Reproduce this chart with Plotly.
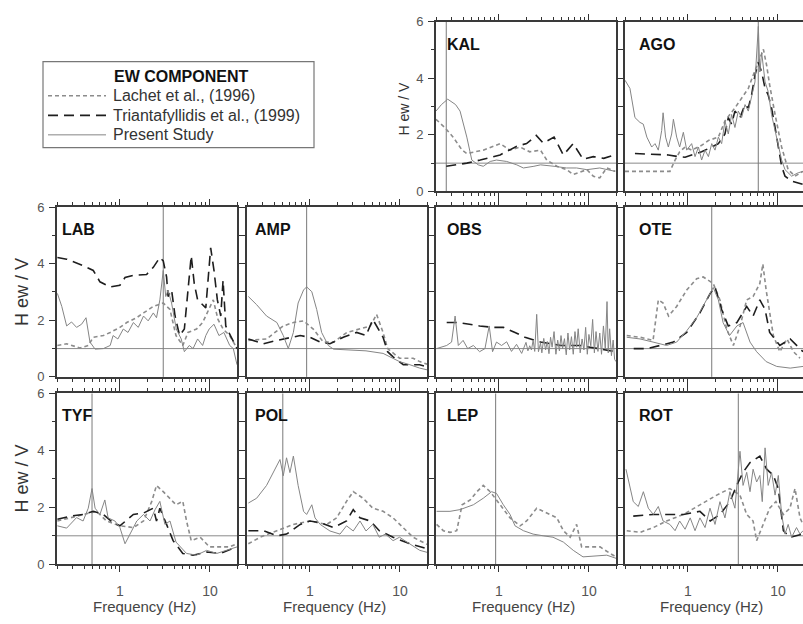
import math
import plotly.graph_objects as go

# ---------------- data ----------------
STATIONS = ["KAL", "AGO", "LAB", "AMP", "OBS", "OTE", "TYF", "POL", "LEP", "ROT"]
GRID_POS = [(0, 2), (0, 3), (1, 0), (1, 1), (1, 2), (1, 3), (2, 0), (2, 1), (2, 2), (2, 3)]
F0 = [0.26, 6.05, 3.03, 0.92, None, 1.84, 0.49, 0.50, 0.92, 3.63]
SERIES_NAMES = ["Lachet et al., (1996)", "Triantafyllidis et al., (1999)", "Present Study"]
LEGEND_TITLE = "EW COMPONENT"
X_TICKS = [1, 10]
X_TICK_TEXT = ["1", "10"]
X_MINOR = [0.2, 0.3, 0.4, 0.5, 0.6, 0.7, 0.8, 0.9, 2, 3, 4, 5, 6, 7, 8, 9, 20]
Y_TICKS = [0, 2, 4, 6]
Y_MINOR = [1, 3, 5]

KAL_P_F = [0.2, 0.23, 0.27, 0.33, 0.37, 0.44, 0.5, 0.59, 0.67, 0.8, 0.94, 1.22, 1.58, 1.87, 2.45, 2.9, 4.1, 5.65, 7.3, 9.5, 13.2, 15.8, 19.6]
KAL_P_V = [2.84, 3.07, 3.26, 3.07, 2.84, 1.92, 1.11, 0.94, 0.89, 1.06, 1.11, 1.06, 0.94, 0.83, 0.89, 0.94, 0.89, 0.83, 0.83, 0.77, 0.83, 0.77, 0.71]
KAL_L_F = [0.2, 0.25, 0.31, 0.39, 0.44, 0.67, 1.03, 1.33, 1.72, 2.2, 2.9, 3.4, 4.4, 5.65, 6.7, 9.5, 11.2, 13.2, 15.8, 19.6]
KAL_L_V = [2.55, 2.26, 1.92, 1.46, 1.34, 1.46, 1.69, 1.46, 1.57, 1.40, 1.46, 1.11, 0.89, 0.77, 0.60, 0.77, 0.54, 0.48, 0.83, 0.71]
KAL_T_F = [0.26, 0.44, 0.62, 1.03, 1.58, 2.03, 2.6, 3.1, 4.1, 5.2, 6.7, 8.6, 11.2, 14.6, 19.1]
KAL_T_V = [0.89, 1.0, 1.11, 1.29, 1.6, 1.69, 1.98, 1.71, 1.92, 1.29, 1.69, 1.14, 1.23, 1.17, 1.29]

AGO_P_F = [0.2, 0.227, 0.258, 0.293, 0.319, 0.35, 0.396, 0.431, 0.469, 0.511, 0.53, 0.565, 0.606, 0.66, 0.69, 0.75, 0.81, 0.89, 0.97, 1.10, 1.2, 1.31, 1.42, 1.55, 1.69, 1.84, 2.0, 2.18, 2.37, 2.58, 2.81, 3.06, 3.33, 3.63, 3.95, 4.31, 4.69, 5.1, 5.56, 6.06, 6.3, 6.6, 7.2, 7.8, 8.5, 9.3, 10.1, 11.0, 12.0, 14.2, 16.8, 19.0]
AGO_P_V = [3.93, 3.64, 2.61, 2.44, 2.38, 1.92, 1.57, 1.69, 1.46, 2.15, 2.78, 1.92, 1.57, 2.03, 2.55, 1.92, 1.57, 2.09, 1.46, 1.69, 1.23, 1.57, 1.11, 1.46, 1.23, 1.69, 1.46, 1.92, 1.69, 2.49, 2.03, 2.72, 2.26, 2.84, 2.61, 3.07, 2.84, 3.30, 3.87, 5.83, 4.22, 4.91, 3.87, 3.53, 2.72, 2.15, 1.69, 1.11, 0.77, 0.54, 0.66, 0.71]
AGO_L_F = [0.2, 0.334, 0.632, 0.72, 0.81, 0.93, 1.1, 1.42, 1.69, 2.18, 2.58, 3.33, 3.95, 4.69, 5.3, 6.06, 6.9, 7.5, 8.1, 9.3, 11.0, 13.0, 15.5, 19.0]
AGO_L_V = [0.71, 0.71, 0.71, 1.11, 1.40, 1.57, 1.46, 1.63, 1.80, 1.92, 2.49, 2.95, 3.30, 3.64, 4.10, 4.56, 5.02, 4.45, 3.76, 2.72, 1.57, 0.77, 0.54, 0.71]
AGO_T_F = [0.258, 0.334, 0.469, 0.606, 0.78, 0.93, 1.1, 1.42, 1.84, 2.18, 2.58, 2.81, 3.06, 3.33, 3.79, 4.31, 4.69, 5.1, 5.56, 6.06, 6.6, 7.2, 7.8, 8.5, 9.3, 10.1, 11.0, 12.0, 14.2, 19.0]
AGO_T_V = [1.34, 1.32, 1.32, 1.29, 1.23, 1.21, 1.29, 1.40, 1.57, 1.69, 2.03, 2.61, 2.38, 2.84, 2.61, 3.07, 2.95, 3.41, 4.10, 4.56, 4.22, 3.64, 3.41, 2.95, 2.26, 1.57, 0.89, 0.54, 0.37, 0.25]

LAB_P_F = [0.202, 0.226, 0.256, 0.29, 0.33, 0.375, 0.42, 0.465, 0.53, 0.655, 0.78, 0.84, 0.95, 1.09, 1.23, 1.41, 1.6, 1.83, 2.06, 2.35, 2.55, 2.78, 3.03, 3.23, 3.43, 3.75, 4.23, 4.8, 5.2, 5.9, 6.5, 7.3, 8.3, 9.0, 9.8, 11.1, 12.6, 14.3, 16.6, 18.2, 20.0]
LAB_P_V = [2.95, 2.49, 1.80, 1.94, 1.75, 1.86, 2.09, 1.23, 0.98, 1.0, 1.11, 1.46, 1.34, 1.69, 1.57, 1.92, 1.75, 2.15, 1.98, 2.26, 2.09, 2.72, 3.76, 2.84, 3.07, 2.61, 1.69, 1.34, 0.89, 1.11, 1.0, 1.34, 1.11, 1.46, 1.69, 1.86, 1.46, 1.57, 1.11, 1.0, 0.43]
LAB_L_F = [0.202, 0.256, 0.36, 0.445, 0.506, 0.655, 0.78, 1.0, 1.19, 1.53, 1.83, 2.35, 3.03, 3.6, 4.2, 5.0, 5.7, 7.1, 8.3, 9.6, 10.9, 12.3, 14.0, 16.6, 20.0]
LAB_L_V = [1.11, 1.17, 1.02, 1.11, 1.40, 1.46, 1.57, 1.75, 1.92, 2.09, 2.26, 2.49, 2.61, 2.38, 1.46, 1.11, 1.57, 1.69, 1.92, 2.38, 2.72, 2.03, 1.69, 1.46, 1.0]
LAB_T_F = [0.202, 0.256, 0.39, 0.506, 0.6, 0.78, 1.0, 1.14, 1.41, 1.98, 2.35, 2.78, 3.03, 3.3, 3.43, 3.75, 4.1, 4.6, 5.2, 6.2, 6.7, 7.3, 8.3, 9.0, 10.2, 11.1, 12.1, 13.2, 14.0, 15.0, 16.9, 20.0]
LAB_T_V = [4.22, 4.16, 3.93, 3.76, 3.36, 3.18, 3.24, 3.51, 3.59, 3.62, 3.87, 4.22, 4.10, 3.53, 2.84, 3.07, 2.15, 1.46, 1.69, 4.28, 3.30, 2.72, 2.55, 2.44, 4.56, 3.76, 2.72, 2.15, 3.41, 1.80, 1.46, 1.0]

AMP_P_F = [0.207, 0.256, 0.33, 0.43, 0.506, 0.575, 0.655, 0.74, 0.85, 0.92, 1.05, 1.19, 1.35, 1.6, 1.83, 2.81, 4.2, 6.5, 8.4, 9.9, 12.9, 16.6, 20.0]
AMP_P_V = [2.84, 2.55, 2.15, 1.92, 1.46, 1.0, 1.57, 2.61, 3.07, 3.18, 3.01, 2.38, 1.57, 1.11, 0.98, 0.94, 0.92, 0.83, 0.66, 0.54, 0.43, 0.31, 0.25]
AMP_L_F = [0.207, 0.33, 0.506, 0.655, 0.85, 1.09, 1.41, 1.83, 2.58, 3.6, 4.7, 5.5, 6.5, 7.3, 9.9, 14.0, 16.6, 20.0]
AMP_L_V = [1.29, 1.34, 1.80, 1.92, 1.98, 1.69, 1.23, 1.23, 1.57, 1.69, 1.80, 2.21, 1.57, 1.0, 0.66, 0.66, 0.54, 0.45]
AMP_T_F = [0.207, 0.304, 0.43, 0.6, 0.78, 1.0, 1.3, 1.67, 2.35, 3.3, 4.2, 5.0, 5.7, 6.5, 7.3, 8.4, 10.9, 16.6, 20.0]
AMP_T_V = [1.34, 1.17, 1.29, 1.40, 1.46, 1.40, 1.23, 1.17, 1.40, 1.57, 1.46, 2.03, 1.69, 1.40, 0.89, 0.71, 0.43, 0.43, 0.35]

OBS_P_F = [0.203, 0.263, 0.298, 0.326, 0.354, 0.4, 0.45, 0.52, 0.61, 0.7, 0.78, 0.85, 0.94, 1.07, 1.22, 1.38, 1.57, 1.79,
           2.0, 2.1, 2.2, 2.3, 2.4, 2.5, 2.63, 2.75, 2.9, 3.0, 3.15, 3.3, 3.45, 3.6, 3.75, 3.9, 4.1, 4.3, 4.5, 4.7,
           4.9, 5.1, 5.35, 5.6, 5.85, 6.1, 6.4, 6.7, 7.0, 7.3, 7.6, 8.0, 8.4, 8.8, 9.2, 9.6, 10.0, 10.5, 11.0, 11.5,
           12.0, 12.6, 13.2, 13.8, 14.5, 15.2, 15.9, 16.4, 17.0, 17.8, 18.6, 19.3, 20.0]
OBS_P_V = [1.0, 1.11, 1.23, 2.15, 1.11, 1.29, 1.0, 1.11, 0.89, 1.0, 1.8, 0.89, 1.23, 1.11, 1.24, 0.9, 1.15, 0.83,
           1.22, 0.92, 1.1, 0.95, 1.3, 0.9, 2.21, 0.89, 1.2, 0.85, 1.36, 0.95, 1.25, 0.82, 1.4, 1.05, 1.6, 0.8, 1.3, 0.92,
           1.46, 1.0, 1.35, 0.78, 1.55, 0.95, 1.42, 0.8, 1.6, 1.05, 1.7, 0.85, 1.34, 0.95, 1.75, 0.8, 1.5, 1.1, 2.03, 0.85,
           1.6, 0.9, 1.55, 0.8, 1.8, 1.0, 2.66, 0.85, 1.7, 0.75, 1.3, 0.62, 0.54]
OBS_T_F = [0.263, 0.354, 0.47, 0.61, 0.87, 1.12, 1.51, 1.95, 2.9, 4.9, 8.0, 13.2, 20.0]
OBS_T_V = [1.92, 1.92, 1.86, 1.80, 1.75, 1.75, 1.57, 1.40, 1.23, 1.11, 1.11, 1.0, 0.89]

OTE_P_F = [0.209, 0.294, 0.41, 0.58, 0.75, 0.97, 1.25, 1.48, 1.69, 1.91, 2.18, 2.46, 2.9, 3.5, 4.1, 4.9, 5.8, 7.4, 9.7, 13.7, 19.0]
OTE_P_V = [1.40, 1.34, 1.23, 1.11, 1.23, 1.63, 2.09, 2.49, 2.84, 3.16, 2.72, 1.92, 1.46, 1.80, 1.92, 1.23, 0.89, 0.54, 0.37, 0.31, 0.37]
OTE_L_F = [0.209, 0.294, 0.41, 0.469, 0.53, 0.61, 0.75, 0.97, 1.25, 1.48, 1.91, 2.27, 2.7, 3.2, 3.8, 4.5, 5.3, 6.3, 6.8, 7.4, 8.9, 10.5, 12.6, 14.9, 17.6]
OTE_L_V = [1.46, 1.40, 1.29, 2.72, 2.61, 2.15, 2.49, 3.07, 3.47, 3.53, 3.30, 2.72, 1.69, 1.11, 1.80, 2.72, 2.84, 3.30, 3.99, 3.07, 1.46, 0.89, 1.34, 0.89, 0.66]
OTE_T_F = [0.25, 0.35, 0.49, 0.69, 0.97, 1.36, 1.77, 2.0, 2.37, 2.81, 3.5, 4.5, 5.3, 6.3, 7.2, 8.1, 10.5, 13.7, 19.0]
OTE_T_V = [1.0, 1.0, 1.11, 1.23, 1.57, 2.26, 2.95, 3.18, 2.38, 1.80, 1.92, 2.49, 2.15, 2.72, 2.38, 1.57, 1.11, 1.34, 0.89]

TYF_P_F = [0.202, 0.256, 0.33, 0.39, 0.445, 0.49, 0.53, 0.6, 0.68, 0.74, 0.88, 1.0, 1.14, 1.3, 1.54, 1.83, 2.16, 2.46, 2.78, 3.16, 3.6, 4.2, 5.5, 7.1, 9.2, 11.9, 15.4, 20.0]
TYF_P_V = [1.35, 1.27, 1.64, 1.52, 1.97, 2.66, 1.97, 1.75, 2.26, 1.63, 1.52, 1.29, 0.72, 1.06, 1.52, 1.75, 1.52, 1.92, 2.21, 1.40, 1.52, 0.78, 0.38, 0.32, 0.49, 0.38, 0.49, 0.61]
TYF_L_F = [0.202, 0.28, 0.39, 0.55, 0.71, 1.0, 1.41, 1.83, 2.26, 2.55, 3.03, 3.6, 4.2, 5.0, 5.5, 6.2, 7.8, 9.9, 13.0, 16.6, 20.0]
TYF_L_V = [1.52, 1.63, 1.75, 1.86, 1.52, 1.35, 1.29, 1.52, 2.21, 2.77, 2.55, 2.32, 2.09, 2.21, 1.52, 0.83, 0.95, 0.61, 0.61, 0.61, 0.72]
TYF_T_F = [0.202, 0.28, 0.39, 0.506, 0.655, 0.84, 1.0, 1.41, 1.83, 2.35, 2.55, 2.78, 3.3, 3.9, 5.0, 6.5, 9.2, 13.0, 20.0]
TYF_T_V = [1.58, 1.69, 1.75, 1.86, 1.75, 1.46, 1.35, 1.75, 1.80, 1.97, 1.52, 1.97, 1.40, 0.83, 0.38, 0.32, 0.43, 0.38, 0.61]

POL_P_F = [0.207, 0.256, 0.33, 0.39, 0.465, 0.506, 0.55, 0.6, 0.655, 0.74, 0.85, 0.92, 1.05, 1.14, 1.3, 1.67, 2.16, 2.55, 3.03, 3.6, 4.2, 5.0, 5.9, 6.9, 8.4, 9.9, 12.9, 16.6, 20.0]
POL_P_V = [2.15, 2.32, 2.77, 3.22, 3.68, 3.11, 3.74, 3.22, 3.80, 2.77, 1.86, 1.75, 2.09, 1.63, 1.40, 1.17, 1.06, 1.35, 1.17, 1.52, 1.17, 1.40, 0.95, 1.06, 0.83, 0.95, 0.72, 0.49, 0.42]
POL_L_F = [0.207, 0.28, 0.43, 0.655, 1.0, 1.54, 1.98, 2.55, 3.03, 3.9, 5.0, 6.5, 8.4, 10.9, 14.0, 16.6, 20.0]
POL_L_V = [0.72, 0.95, 1.18, 1.40, 1.52, 1.40, 1.63, 2.21, 2.55, 2.32, 1.97, 1.86, 1.63, 1.29, 0.95, 0.83, 0.70]
POL_T_F = [0.207, 0.304, 0.43, 0.55, 0.78, 1.0, 1.3, 1.83, 2.55, 3.03, 3.6, 4.7, 5.9, 8.4, 12.9, 16.6, 20.0]
POL_T_V = [1.18, 1.18, 1.0, 1.06, 1.40, 1.52, 1.46, 1.29, 1.52, 1.92, 1.63, 1.52, 1.18, 0.95, 0.72, 0.61, 0.55]

LEP_P_F = [0.203, 0.286, 0.37, 0.52, 0.67, 0.83, 0.94, 1.12, 1.33, 1.51, 1.87, 2.4, 3.1, 3.99, 5.2, 6.7, 8.6, 11.2, 15.8, 20.0]
LEP_P_V = [1.86, 1.86, 1.92, 2.09, 2.32, 2.55, 2.49, 2.09, 1.75, 1.35, 1.18, 1.06, 1.0, 0.95, 0.78, 0.49, 0.26, 0.29, 0.32, 0.21]
LEP_L_F = [0.203, 0.241, 0.286, 0.34, 0.39, 0.48, 0.57, 0.67, 0.8, 0.94, 1.12, 1.33, 1.72, 2.03, 2.63, 3.4, 4.4, 5.2, 6.2, 7.3, 8.3, 10.3, 13.3, 17.2, 20.0]
LEP_L_V = [1.40, 1.18, 1.12, 1.18, 2.09, 2.26, 2.55, 2.77, 2.55, 2.26, 1.97, 1.63, 1.35, 1.52, 1.97, 1.80, 1.63, 1.18, 0.95, 1.40, 0.61, 0.61, 0.61, 0.38, 0.26]

ROT_P_F = [0.205, 0.227, 0.247, 0.281, 0.32, 0.363, 0.413, 0.469, 0.53, 0.63, 0.72, 0.81, 0.93, 1.06, 1.2, 1.36, 1.55, 1.76, 2.0, 2.27, 2.58, 2.93, 3.33, 3.79, 4.1, 4.5, 4.9, 5.3, 5.8, 6.3, 6.7, 7.2, 7.8, 8.5, 9.3, 10.1, 11.0, 12.0, 13.0, 14.2, 16.1, 17.6, 19.0]
ROT_P_V = [3.34, 2.66, 2.20, 2.03, 2.55, 1.97, 1.75, 2.03, 1.52, 1.40, 1.18, 1.52, 1.23, 1.63, 1.18, 1.63, 1.29, 1.97, 1.40, 2.20, 1.63, 2.55, 1.97, 3.97, 2.77, 3.23, 2.55, 3.34, 2.89, 3.12, 2.20, 4.09, 2.77, 3.23, 2.43, 3.12, 1.75, 1.06, 1.40, 0.95, 1.29, 1.06, 1.18]
ROT_L_F = [0.209, 0.294, 0.413, 0.58, 0.89, 1.36, 2.09, 2.93, 3.79, 4.5, 5.3, 5.8, 6.8, 8.1, 9.5, 11.5, 13.6, 15.5, 17.6, 19.0]
ROT_L_V = [1.18, 1.12, 1.29, 1.52, 1.75, 2.09, 2.43, 2.66, 2.43, 1.75, 1.52, 0.83, 1.40, 1.97, 2.20, 1.75, 1.97, 2.66, 1.63, 1.40]
ROT_T_F = [0.247, 0.413, 0.58, 0.89, 1.36, 1.77, 2.27, 2.93, 3.48, 4.1, 4.9, 6.3, 7.5, 8.9, 10.1, 11.5, 13.6, 19.0]
ROT_T_V = [1.69, 1.75, 1.75, 1.75, 1.86, 1.52, 1.75, 2.20, 2.77, 3.23, 3.57, 3.80, 3.34, 3.12, 2.66, 1.18, 0.95, 1.06]

DATA = {
    "KAL": [(KAL_L_F, KAL_L_V), (KAL_T_F, KAL_T_V), (KAL_P_F, KAL_P_V)],
    "AGO": [(AGO_L_F, AGO_L_V), (AGO_T_F, AGO_T_V), (AGO_P_F, AGO_P_V)],
    "LAB": [(LAB_L_F, LAB_L_V), (LAB_T_F, LAB_T_V), (LAB_P_F, LAB_P_V)],
    "AMP": [(AMP_L_F, AMP_L_V), (AMP_T_F, AMP_T_V), (AMP_P_F, AMP_P_V)],
    "OBS": [None, (OBS_T_F, OBS_T_V), (OBS_P_F, OBS_P_V)],
    "OTE": [(OTE_L_F, OTE_L_V), (OTE_T_F, OTE_T_V), (OTE_P_F, OTE_P_V)],
    "TYF": [(TYF_L_F, TYF_L_V), (TYF_T_F, TYF_T_V), (TYF_P_F, TYF_P_V)],
    "POL": [(POL_L_F, POL_L_V), (POL_T_F, POL_T_V), (POL_P_F, POL_P_V)],
    "LEP": [(LEP_L_F, LEP_L_V), None, (LEP_P_F, LEP_P_V)],
    "ROT": [(ROT_L_F, ROT_L_V), (ROT_T_F, ROT_T_V), (ROT_P_F, ROT_P_V)],
}

# ---------------- layout / style ----------------
W, H = 803, 624
COL_PX = [(57, 237), (247, 427), (436, 616), (625, 803)]
ROW_PX = [(15, 189), (205, 379), (396, 571)]
DEC_PX = 90.0
LX0 = math.log10(0.2)
LABEL_DX = [3, 6, 9, 12]
FONT = "Liberation Sans, Arial, sans-serif"
STYLES = [
    dict(color="#8c8c8c", width=1.6, dash="4px,3px"),
    dict(color="#1e1e1e", width=1.6, dash="10px,6px"),
    dict(color="#858585", width=1.0, dash="solid"),
]
LEG_BOX = (43, 314, 56, 144)
LEG_TITLE_Y = 71
LEG_ROWS_Y = [91, 111, 131]
LEG_SAMPLE_X = (48, 106)
LEG_TEXT_X = 111

fig = go.Figure()
layout = {}
shapes = []
annotations = []

for i, st in enumerate(STATIONS):
    n = i + 1
    r, c = GRID_POS[i]
    xs = "x" if n == 1 else f"x{n}"
    ys = "y" if n == 1 else f"y{n}"
    x0p, x1p = COL_PX[c]
    y0p, y1p = ROW_PX[r]
    for k, ser in enumerate(DATA[st]):
        if ser is None:
            continue
        fig.add_trace(go.Scatter(
            x=ser[0], y=ser[1], mode="lines", name=SERIES_NAMES[k],
            line=STYLES[k], xaxis=xs, yaxis=ys, showlegend=False,
        ))
    first_col = (c == 0) or (st == "KAL")
    bottom = (r == 2)
    layout[f"xaxis{n}"] = dict(
        domain=[x0p / W, x1p / W], anchor=ys, type="log",
        range=[LX0, LX0 + (x1p - x0p) / DEC_PX],
        tickmode="array", tickvals=X_TICKS, ticktext=X_TICK_TEXT,
        ticks="outside", ticklen=6, tickwidth=1, tickcolor="#333",
        minor=dict(tickmode="array", tickvals=X_MINOR, ticks="outside",
                   ticklen=3, tickwidth=1, tickcolor="#333", showgrid=False),
        showticklabels=bottom, ticklabelstandoff=7,
        tickfont=dict(size=14, color="#555", family=FONT),
        showline=True, linecolor="#3a3a3a", linewidth=2, mirror="allticks",
        showgrid=False, zeroline=False, fixedrange=True,
    )
    layout[f"yaxis{n}"] = dict(
        domain=[1 - y1p / H, 1 - y0p / H], anchor=xs, range=[0, 6],
        tickmode="array", tickvals=Y_TICKS,
        ticks="outside", ticklen=6, tickwidth=1, tickcolor="#333",
        minor=dict(tickmode="array", tickvals=Y_MINOR, ticks="outside",
                   ticklen=3, tickwidth=1, tickcolor="#333", showgrid=False),
        showticklabels=first_col, ticklabelstandoff=2,
        tickfont=dict(size=13, color="#555", family=FONT),
        showline=True, linecolor="#3a3a3a", linewidth=2,
        mirror=("allticks" if c < 3 else False),
        showgrid=False, zeroline=False, fixedrange=True,
    )
    shapes.append(dict(type="line", xref=f"{xs} domain", yref=ys, x0=0, x1=1, y0=1, y1=1,
                       line=dict(color="#8a8a8a", width=1), layer="below"))
    if F0[i] is not None:
        shapes.append(dict(type="line", xref=xs, yref=f"{ys} domain", x0=F0[i], x1=F0[i], y0=0, y1=1,
                           line=dict(color="#7a7a7a", width=1), layer="below"))
    annotations.append(dict(text=f"<b>{st}</b>", xref=f"{xs} domain", yref=f"{ys} domain",
                            x=0, y=1, xanchor="left", yanchor="top", xshift=LABEL_DX[c], yshift=-12,
                            showarrow=False, font=dict(size=16, color="#111", family=FONT)))
    if bottom:
        annotations.append(dict(text="Frequency (Hz)", xref=f"{xs} domain", yref="paper",
                                x=0.5, y=1 - 614 / H, xanchor="center", yanchor="middle", xshift=-3,
                                showarrow=False, font=dict(size=15, color="#444", family=FONT)))

for (px, py, size) in [(404, 104, 14), (22, 292, 18), (22, 483, 18)]:
    annotations.append(dict(text="H ew / V", xref="paper", yref="paper", x=px / W, y=1 - py / H,
                            xanchor="center", yanchor="middle", textangle=-90, showarrow=False,
                            font=dict(size=size, color="#333", family=FONT)))

bl, br, bt, bb = LEG_BOX
shapes.append(dict(type="rect", xref="paper", yref="paper", x0=bl / W, x1=br / W,
                   y0=1 - bb / H, y1=1 - bt / H, line=dict(color="#777", width=1.2),
                   fillcolor="white", layer="above"))
annotations.append(dict(text=f"<b>{LEGEND_TITLE}</b>", xref="paper", yref="paper",
                        x=(bl + br) / 2 / W, y=1 - LEG_TITLE_Y / H, xanchor="center",
                        yanchor="middle", showarrow=False, xshift=2,
                        font=dict(size=16, color="#111", family=FONT)))
for k, name in enumerate(SERIES_NAMES):
    yk = 1 - LEG_ROWS_Y[k] / H
    st_k = STYLES[k]
    shapes.append(dict(type="line", xref="paper", yref="paper",
                       x0=LEG_SAMPLE_X[0] / W, x1=LEG_SAMPLE_X[1] / W, y0=yk, y1=yk,
                       line=dict(color=st_k["color"], width=st_k["width"], dash=st_k["dash"]),
                       layer="above"))
    annotations.append(dict(text=name, xref="paper", yref="paper", x=LEG_TEXT_X / W, y=yk,
                            xanchor="left", yanchor="middle", showarrow=False,
                            font=dict(size=16, color="#333", family=FONT)))

fig.update_layout(
    width=W, height=H, margin=dict(l=0, r=0, t=0, b=0),
    paper_bgcolor="white", plot_bgcolor="white",
    font=dict(family=FONT, color="#333"), showlegend=False,
    shapes=shapes, annotations=annotations,
    **layout,
)

fig.write_html("out.html", config={"displayModeBar": False},
               post_script="document.body.style.margin='0';document.body.style.overflow='hidden';")
